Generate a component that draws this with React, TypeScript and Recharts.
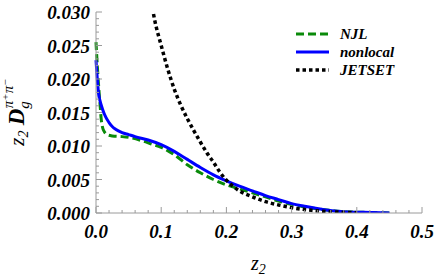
import React from "react";
import { LineChart, Line, XAxis, YAxis } from "recharts";

// z2 grid and values for each curve
const NJL_Z = [0, 0.002, 0.004, 0.006, 0.008, 0.01, 0.013, 0.017, 0.025, 0.04, 0.055, 0.07, 0.085, 0.1, 0.12, 0.14, 0.16, 0.18, 0.2, 0.22, 0.24, 0.26, 0.28, 0.3, 0.32, 0.35, 0.38, 0.41, 0.45];
const NJL_D = [0.0255, 0.022, 0.019, 0.0165, 0.014, 0.0128, 0.0121, 0.0117, 0.0115, 0.0114, 0.0112, 0.0108, 0.0103, 0.0098, 0.0087, 0.0072, 0.006, 0.005, 0.0042, 0.0036, 0.003, 0.0024, 0.0018, 0.0013, 0.0009, 0.0005, 0.0002, 0.0001, 0];

const NONLOCAL_Z = [0, 0.002, 0.004, 0.006, 0.01, 0.015, 0.02, 0.026, 0.03, 0.04, 0.05, 0.06, 0.08, 0.1, 0.12, 0.14, 0.16, 0.18, 0.2, 0.22, 0.24, 0.26, 0.28, 0.3, 0.32, 0.35, 0.38, 0.41, 0.45];
const NONLOCAL_D = [0.0228, 0.02, 0.0178, 0.0168, 0.0155, 0.0143, 0.0135, 0.0128, 0.0125, 0.012, 0.0117, 0.0114, 0.0109, 0.0102, 0.0092, 0.008, 0.0068, 0.0057, 0.0048, 0.004, 0.0033, 0.0026, 0.002, 0.0014, 0.001, 0.0005, 0.0002, 0.0001, 0];

const JETSET_Z = [0.08, 0.09, 0.1, 0.11, 0.12, 0.13, 0.14, 0.15, 0.16, 0.17, 0.18, 0.19, 0.2, 0.21, 0.22, 0.24, 0.26, 0.28, 0.3, 0.33, 0.36, 0.4];
const JETSET_D = [0.0345, 0.0288, 0.025, 0.0215, 0.0185, 0.0161, 0.0141, 0.0123, 0.0106, 0.009, 0.0076, 0.0061, 0.0049, 0.004, 0.0033, 0.0024, 0.0017, 0.0012, 0.0008, 0.0004, 0.0002, 0.00005];

const X_TICKS = [0, 0.02, 0.04, 0.06, 0.08, 0.1, 0.12, 0.14, 0.16, 0.18, 0.2, 0.22, 0.24, 0.26, 0.28, 0.3, 0.32, 0.34, 0.36, 0.38, 0.4, 0.42, 0.44, 0.46, 0.48, 0.5];
const X_MAJOR = [0, 0.1, 0.2, 0.3, 0.4, 0.5];
const Y_TICKS = [0, 0.001, 0.002, 0.003, 0.004, 0.005, 0.006, 0.007, 0.008, 0.009, 0.01, 0.011, 0.012, 0.013, 0.014, 0.015, 0.016, 0.017, 0.018, 0.019, 0.02, 0.021, 0.022, 0.023, 0.024, 0.025, 0.026, 0.027, 0.028, 0.029, 0.03];
const Y_MAJOR = [0, 0.005, 0.01, 0.015, 0.02, 0.025, 0.03];

const toRows = (zs: number[], ds: number[]) => zs.map((z, i) => ({ z, d: ds[i] }));

const SERIES = [
  { name: "NJL", data: toRows(NJL_Z, NJL_D), color: "#0a8a0a", dash: "8 4", width: 3 },
  { name: "nonlocal", data: toRows(NONLOCAL_Z, NONLOCAL_D), color: "#0000ff", dash: undefined, width: 3 },
  { name: "JETSET", data: toRows(JETSET_Z, JETSET_D), color: "#000000", dash: "3.5 3", width: 3.5 },
];

const FRAME = "#9a9a9a";
const SERIF = "Liberation Serif, Liberation Sans, Arial, sans-serif";
const bi = { fontFamily: SERIF, fontWeight: "bold", fontStyle: "italic" } as const;

const isMajor = (v: number, majors: number[]) => majors.some((m) => Math.abs(m - v) < 1e-9);

function BottomTick({ x, y, payload }: any) {
  const major = isMajor(payload.value, X_MAJOR);
  return (
    <g>
      <line x1={x} x2={x} y1={y} y2={y - (major ? 6 : 3)} stroke={FRAME} />
      {major && (
        <text x={x} y={y + 25} textAnchor="middle" style={{ ...bi, fontSize: 19 }} fill="#000">
          {payload.value.toFixed(1)}
        </text>
      )}
    </g>
  );
}

function TopTick({ x, y, payload }: any) {
  const major = isMajor(payload.value, X_MAJOR);
  return <line x1={x} x2={x} y1={y} y2={y + (major ? 6 : 3)} stroke={FRAME} />;
}

function LeftTick({ x, y, payload }: any) {
  const major = isMajor(payload.value, Y_MAJOR);
  return (
    <g>
      <line x1={x} x2={x + (major ? 6 : 3)} y1={y} y2={y} stroke={FRAME} />
      {major && (
        <text x={x - 6} y={y + 7} textAnchor="end" style={{ ...bi, fontSize: 19 }} fill="#000">
          {payload.value.toFixed(3)}
        </text>
      )}
    </g>
  );
}

function RightTick({ x, y, payload }: any) {
  const major = isMajor(payload.value, Y_MAJOR);
  return <line x1={x} x2={x - (major ? 6 : 3)} y1={y} y2={y} stroke={FRAME} />;
}

function YTitle() {
  return (
    <text
      x={24}
      y={112}
      transform="rotate(-90, 24, 112)"
      textAnchor="middle"
      style={{ fontFamily: SERIF, fontStyle: "italic", fontSize: 21 }}
      fill="#000"
    >
      <tspan>z</tspan>
      <tspan fontSize={14} dy={4}>2</tspan>
      <tspan dy={-4}> </tspan>
      <tspan fontWeight="bold" fontSize={23}>D</tspan>
      <tspan fontSize={15} dy={5}>g</tspan>
      <tspan fontSize={15} dx={-7} dy={-16}>π</tspan>
      <tspan fontSize={11} dy={-4}>+</tspan>
      <tspan fontSize={15} dy={4}>π</tspan>
      <tspan fontSize={11} dy={-4}>−</tspan>
    </text>
  );
}

function XTitle() {
  return (
    <text x={251} y={270} style={{ fontFamily: SERIF, fontStyle: "italic", fontSize: 20 }} fill="#000">
      <tspan>z</tspan>
      <tspan fontSize={14} dy={4}>2</tspan>
    </text>
  );
}

function LegendBox() {
  return (
    <div style={{ position: "absolute", left: 296, top: 25, ...bi, fontSize: 15 }}>
      {SERIES.map((s) => (
        <div key={s.name} style={{ display: "flex", alignItems: "center", height: 18 }}>
          <svg width={33} height={8} style={{ marginRight: 11 }}>
            <line x1={0} x2={33} y1={4} y2={4} stroke={s.color} strokeWidth={s.width} strokeDasharray={s.dash} />
          </svg>
          <span>{s.name}</span>
        </div>
      ))}
    </div>
  );
}

export default function App() {
  return (
    <div style={{ position: "absolute", left: 0, top: 0, width: 436, height: 276, background: "#fff" }}>
      <LineChart width={436} height={276} margin={{ top: 12, right: 14, bottom: 0, left: 0 }}>
        <XAxis
          dataKey="z"
          type="number"
          domain={[0, 0.5]}
          ticks={X_TICKS}
          interval={0}
          height={63}
          tickSize={0}
          tickMargin={0}
          axisLine={{ stroke: FRAME }}
          tick={<BottomTick />}
          label={<XTitle />}
        />
        <XAxis
          xAxisId="top"
          orientation="top"
          type="number"
          domain={[0, 0.5]}
          ticks={X_TICKS}
          interval={0}
          height={0}
          tickSize={0}
          tickMargin={0}
          axisLine={{ stroke: FRAME }}
          tick={<TopTick />}
        />
        <YAxis
          type="number"
          domain={[0, 0.03]}
          allowDataOverflow
          ticks={Y_TICKS}
          interval={0}
          width={96}
          tickSize={0}
          tickMargin={0}
          axisLine={{ stroke: FRAME }}
          tick={<LeftTick />}
          label={<YTitle />}
        />
        <YAxis
          yAxisId="right"
          orientation="right"
          type="number"
          domain={[0, 0.03]}
          ticks={Y_TICKS}
          interval={0}
          width={0}
          tickSize={0}
          tickMargin={0}
          axisLine={{ stroke: FRAME }}
          tick={<RightTick />}
        />
        {SERIES.map((s) => (
          <Line
            key={s.name}
            name={s.name}
            data={s.data}
            dataKey="d"
            type="monotone"
            stroke={s.color}
            strokeWidth={s.width}
            strokeDasharray={s.dash}
            dot={false}
            activeDot={false}
            isAnimationActive={false}
          />
        ))}
      </LineChart>
      <LegendBox />
    </div>
  );
}
